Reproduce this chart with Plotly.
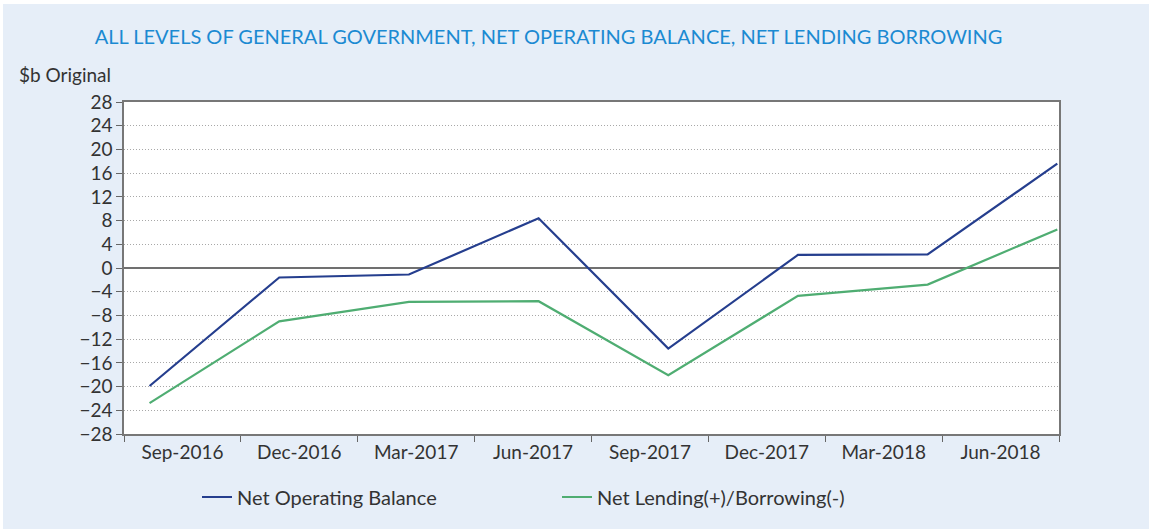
import plotly.graph_objects as go

categories = ["Sep-2016", "Dec-2016", "Mar-2017", "Jun-2017", "Sep-2017", "Dec-2017", "Mar-2018", "Jun-2018"]
net_operating_balance = [-19.9, -1.6, -1.1, 8.4, -13.6, 2.2, 2.3, 17.6]
net_lending_borrowing = [-22.8, -9.0, -5.7, -5.6, -18.1, -4.7, -2.8, 6.5]
y_ticks = list(range(-28, 29, 4))

W, H = 1149, 529
L, R, T, B = 124, 90, 102, 95
FONT = "Lato"
TXT = "#333333"
BG = "#e6eef8"

fig = go.Figure()
# invisible trace to set up category axis
fig.add_trace(go.Scatter(x=categories, y=[None] * len(categories), xaxis="x", yaxis="y",
                         showlegend=False, hoverinfo="skip"))
fig.add_trace(go.Scatter(x=categories, y=net_operating_balance, name="Net Operating Balance",
                         mode="lines", line=dict(color="#253e8e", width=2.2), xaxis="x2", yaxis="y"))
fig.add_trace(go.Scatter(x=categories, y=net_lending_borrowing, name="Net Lending(+)/Borrowing(-)",
                         mode="lines", line=dict(color="#4fad72", width=2.2), xaxis="x2", yaxis="y"))

pw = W - L - R
ph = H - T - B


def px_x(p):
    return (p - L) / pw


def px_y(p):
    return (H - B - p) / ph


fig.update_layout(
    width=W, height=H,
    margin=dict(l=L, r=R, t=T, b=B),
    paper_bgcolor=BG, plot_bgcolor="white",
    font=dict(family=FONT, size=19, color=TXT),
    title=dict(text="ALL LEVELS OF GENERAL GOVERNMENT, NET OPERATING BALANCE, NET LENDING BORROWING",
               font=dict(family=FONT, size=20, color="#1b8ad2"),
               x=548.5 / W, xanchor="center", xref="container",
               y=1 - 37 / H, yanchor="middle", yref="container"),
    xaxis=dict(type="category", categoryorder="array", categoryarray=categories,
               range=[-0.5, 7.5], tickson="boundaries", ticks="outside", ticklen=6,
               tickcolor="#666666", tickwidth=1.2,
               showline=True, linecolor="#777777", linewidth=1.5, mirror=True,
               showgrid=False, zeroline=False, tickfont=dict(size=19, color=TXT)),
    xaxis2=dict(type="category", categoryorder="array", categoryarray=categories,
                overlaying="x", range=[-0.197, 7.013], visible=False, showgrid=False),
    yaxis=dict(range=[-28, 28], tickvals=y_ticks, ticks="outside", ticklen=6,
               tickcolor="#666666", tickwidth=1.2,
               showline=True, linecolor="#777777", linewidth=1.5, mirror=True,
               showgrid=True, gridcolor="#a8a8a8", griddash="1px,2px", gridwidth=1,
               zeroline=True, zerolinecolor="#707070", zerolinewidth=1.5,
               tickfont=dict(size=19, color=TXT)),
    legend=dict(orientation="h", x=px_x(197), xanchor="left",
                y=px_y(497), yanchor="middle", bgcolor="rgba(0,0,0,0)",
                entrywidth=315, entrywidthmode="pixels",
                font=dict(size=20, color=TXT)),
    annotations=[dict(text="$b Original", xref="paper", yref="paper",
                      x=px_x(17), xanchor="left", y=px_y(74), yanchor="middle",
                      showarrow=False, font=dict(size=19, color=TXT))],
    shapes=[
        dict(type="rect", xref="paper", yref="paper", x0=px_x(0), x1=px_x(W),
             y0=px_y(4), y1=px_y(0), fillcolor="white", line=dict(width=0), layer="above"),
        dict(type="rect", xref="paper", yref="paper", x0=px_x(0), x1=px_x(3),
             y0=px_y(H), y1=px_y(0), fillcolor="white", line=dict(width=0), layer="above"),
    ],
    showlegend=True,
)

fig.write_html("out.html", config={"displayModeBar": False},
               post_script="document.body.style.margin='0';")
